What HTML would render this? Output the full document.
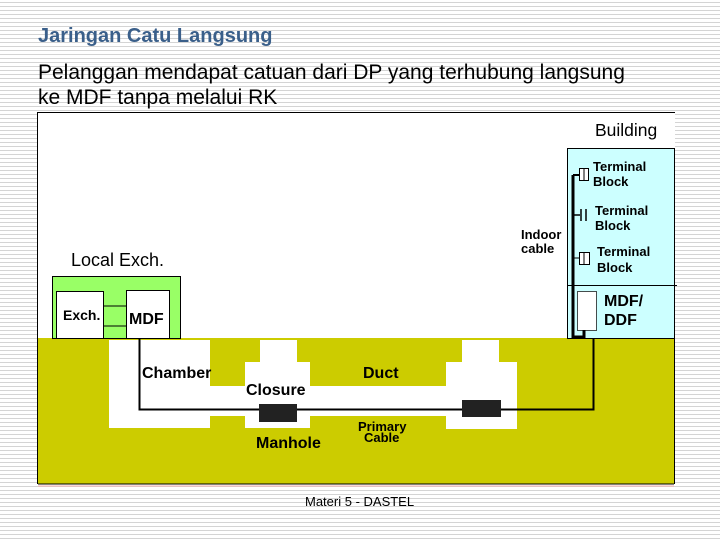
<!DOCTYPE html>
<html><head><style>
body{margin:0;width:720px;height:540px;overflow:hidden;position:relative;font-family:"Liberation Sans",sans-serif;
background:repeating-linear-gradient(to bottom,#fff 0px,#fff 2px,#d4d4d4 2px,#d4d4d4 3px,#fff 3px,#fff 4px);}
.a{position:absolute;}
.t{position:absolute;white-space:nowrap;}
</style></head><body>
<div class="t" style="left:38px;top:25px;font-size:20px;font-weight:bold;color:#3a5f8a;">Jaringan Catu Langsung</div>
<div class="t" style="left:38px;top:60px;font-size:21px;color:#000;line-height:25px;">Pelanggan mendapat catuan dari DP yang terhubung langsung<br>ke MDF tanpa melalui RK</div>
<svg class="a" style="left:0;top:0" width="720" height="540" font-family="Liberation Sans, sans-serif">
<rect x="37" y="112" width="638" height="372" fill="#fff"/>
<line x1="37" y1="112.5" x2="675" y2="112.5" stroke="#000"/>
<line x1="37.5" y1="112" x2="37.5" y2="484" stroke="#000"/>
<rect x="38" y="338" width="637" height="146" fill="#cccc00"/>
<line x1="674.5" y1="338" x2="674.5" y2="484" stroke="#000"/>
<line x1="38" y1="484" x2="674" y2="484" stroke="#000"/>
<line x1="38" y1="486" x2="674" y2="486" stroke="#f4b0b0"/>
<rect x="109" y="340" width="101" height="88" fill="#fff"/>
<rect x="210" y="386" width="240" height="30" fill="#fff"/>
<rect x="260" y="340" width="37" height="24" fill="#fff"/>
<rect x="245" y="362" width="65" height="66" fill="#fff"/>
<rect x="462" y="340" width="37" height="24" fill="#fff"/>
<rect x="446" y="362" width="71" height="67" fill="#fff"/>
<rect x="52.5" y="276.5" width="128" height="62" fill="#99ff66" stroke="#000"/>
<rect x="56.5" y="291.5" width="47" height="47" fill="#fff" stroke="#000"/>
<rect x="126.5" y="290.5" width="43" height="48" fill="#fff" stroke="#000"/>
<line x1="103" y1="306" x2="126" y2="306" stroke="#000"/>
<line x1="103" y1="326" x2="126" y2="326" stroke="#000"/>
<text x="71" y="266" font-size="18">Local Exch.</text>
<text x="63" y="320" font-size="14" font-weight="bold">Exch.</text>
<text x="129" y="324" font-size="16" font-weight="bold">MDF</text>
<polyline points="139.5,338 139.5,409.5 593.5,409.5 593.5,327" fill="none" stroke="#000" stroke-width="2"/>
<rect x="259" y="404" width="38" height="18" fill="#222"/>
<rect x="462" y="400" width="39" height="17" fill="#222"/>
<text x="142" y="378" font-size="16" font-weight="bold">Chamber</text>
<text x="246" y="395" font-size="16" font-weight="bold">Closure</text>
<text x="256" y="448" font-size="16" font-weight="bold">Manhole</text>
<text x="363" y="378" font-size="16" font-weight="bold">Duct</text>
<text x="358" y="431" font-size="13" font-weight="bold">Primary</text>
<text x="364" y="442" font-size="13" font-weight="bold">Cable</text>
<text x="595" y="136" font-size="17.5">Building</text>
<rect x="567.5" y="148.5" width="107" height="190" fill="#ccffff" stroke="#000"/>
<line x1="567" y1="285.5" x2="677" y2="285.5" stroke="#000"/>
<rect x="577.5" y="291.5" width="19" height="39" fill="#fff" stroke="#000" stroke-width="0.7"/>
<polyline points="573,175 573,337 584,337 584,330" fill="none" stroke="#000" stroke-width="3"/>
<line x1="573" y1="175" x2="579" y2="175" stroke="#000" stroke-width="2"/>
<rect x="579.5" y="168.5" width="9" height="12" fill="#fff" stroke="#000"/>
<line x1="584" y1="169" x2="584" y2="180" stroke="#000"/>
<line x1="573" y1="215" x2="580" y2="215" stroke="#000" stroke-width="1.5"/>
<line x1="581" y1="209" x2="581" y2="221" stroke="#000" stroke-width="1.5"/>
<line x1="586" y1="209" x2="586" y2="221" stroke="#000" stroke-width="1.5"/>
<line x1="573" y1="258" x2="579" y2="258" stroke="#000"/>
<rect x="579.5" y="252.5" width="10" height="12" fill="#fff" stroke="#000"/>
<line x1="584" y1="253" x2="584" y2="264" stroke="#000"/>
<text x="593" y="171" font-size="13" font-weight="bold">Terminal</text>
<text x="593" y="186" font-size="13" font-weight="bold">Block</text>
<text x="595" y="215" font-size="13" font-weight="bold">Terminal</text>
<text x="595" y="230" font-size="13" font-weight="bold">Block</text>
<text x="597" y="256" font-size="13" font-weight="bold">Terminal</text>
<text x="597" y="272" font-size="13" font-weight="bold">Block</text>
<text x="604" y="306" font-size="16" font-weight="bold">MDF/</text>
<text x="604" y="325" font-size="16" font-weight="bold">DDF</text>
<text x="521" y="239" font-size="13" font-weight="bold">Indoor</text>
<text x="521" y="253" font-size="13" font-weight="bold">cable</text>
</svg>
<div class="t" style="left:305px;top:494px;font-size:13px;">Materi 5 - DASTEL</div>
</body></html>
